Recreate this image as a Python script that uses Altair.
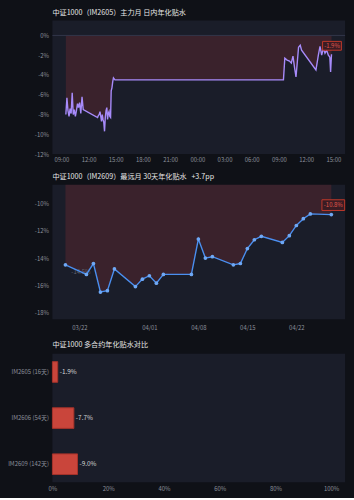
import altair as alt
import pandas as pd

FONT = "Noto Sans CJK SC"
BG = "#0f1117"
PANEL = "#1a1d29"
TXT = "#e6e6e6"
LAB = "#8b8f9a"

# ---------- Chart 1: intraday annualized basis (IM2605) ----------
day1 = "2026-04-27"
day2 = "2026-04-28"
d1_times = ["09:30", "09:37", "09:44", "09:51", "09:58", "10:05", "10:12", "10:19", "10:26",
            "10:33", "10:40", "10:47", "10:54", "11:01", "11:09", "11:17", "11:25",
            "13:00", "13:05", "13:11", "13:16", "13:21", "13:26", "13:31", "13:36", "13:41",
            "13:46", "13:51", "13:56", "14:01", "14:06", "14:11", "14:16", "14:21", "14:26",
            "14:30", "14:35", "14:40", "14:45", "14:50", "14:55", "15:00"]
d1_vals = [-8.0, -6.3, -7.6, -8.2, -7.4, -7.9, -5.8, -8.0, -7.5,
           -8.2, -7.6, -6.9, -7.3, -6.8, -7.9, -6.2, -7.5,
           -8.3, -8.1, -8.0, -7.7, -8.2, -8.7, -8.0, -8.5, -8.8,
           -9.7, -8.3, -7.6, -7.3, -8.5, -7.9, -7.7, -8.2, -8.3,
           -5.6, -5.3, -4.7, -4.3, -4.4, -4.5, -4.5]
d2_times = ["09:30", "09:39", "09:54", "10:10", "10:22", "10:33", "10:44", "10:53", "11:00",
            "11:10", "11:21", "11:30",
            "13:05", "13:21", "13:32", "13:43", "13:54", "14:05", "14:16", "14:27", "14:37",
            "14:42", "14:48"]
d2_vals = [-4.5, -2.3, -2.5, -2.6, -2.8, -2.1, -3.3, -4.2, -3.0,
           -1.2, -1.0, -1.5,
           -3.5, -2.0, -1.1, -2.0, -1.3, -1.8, -1.5, -2.0, -2.2,
           -3.7, -1.9]

# ---------- Chart 2: far-month 30-day annualized basis (IM2609) ----------
c2_dates = ["2026-03-20", "2026-03-23", "2026-03-24", "2026-03-25", "2026-03-26", "2026-03-27",
            "2026-03-30", "2026-03-31", "2026-04-01", "2026-04-02", "2026-04-03", "2026-04-07",
            "2026-04-08", "2026-04-09", "2026-04-10", "2026-04-13", "2026-04-14", "2026-04-15",
            "2026-04-16", "2026-04-17", "2026-04-20", "2026-04-21", "2026-04-22", "2026-04-23",
            "2026-04-24", "2026-04-27"]
c2_vals = [-14.5, -15.2, -14.4, -16.5, -16.4, -14.8,
           -16.1, -15.55, -15.3, -15.85, -15.2, -15.2,
           -12.6, -14.0, -13.9, -14.5, -14.4, -13.3,
           -12.65, -12.4, -12.85, -12.35, -11.6, -11.1,
           -10.75, -10.8]

# ---------- Chart 3: contract comparison ----------
c3_contracts = ["IM2605 (16天)", "IM2606 (54天)", "IM2609 (142天)"]
c3_vals = [-1.9, -7.7, -9.0]

title1 = "中证1000（IM2605）主力月 日内年化贴水"
title2 = "中证1000（IM2609）最远月 30天年化贴水\u00a0\u00a0\u00a0+3.7pp"
title3 = "中证1000 多合约年化贴水对比"

W = 296
RED = "#ef4444"
BOXPATH = "M-1,-0.47L1,-0.47L1,0.47L-1,0.47Z"


def ttl(t, off=4.5):
    return alt.TitleParams(t, anchor="start", frame="group", fontSize=7.2, color=TXT,
                           font=FONT, fontWeight="normal", offset=off)


def dt(y, m, d, h=0, mi=0):
    return alt.DateTime(year=y, month=m, date=d, hours=h, minutes=mi)


# chart 1 frame
t1 = [pd.Timestamp(f"{day1} {t}") for t in d1_times] + [pd.Timestamp(f"{day2} {t}") for t in d2_times]
df1 = pd.DataFrame({"t": t1, "v": d1_vals + d2_vals})
last1 = df1.tail(1).assign(lbl=lambda d: d["v"].map(lambda x: f"{x:.1f}%"))
zero_df1 = pd.DataFrame({"t": [t1[0]], "v": [0.0]})

x1 = alt.X("t:T", title=None,
           scale=alt.Scale(domain=[dt(2026, 4, 27, 8, 1), dt(2026, 4, 28, 16, 18)]),
           axis=alt.Axis(values=[dt(2026, 4, 27, h) for h in (9, 12, 15, 18, 21)] +
                         [dt(2026, 4, 28, h) for h in (0, 3, 6, 9, 12, 15)],
                         format="%H:%M", labelOverlap=False))
y1 = alt.Y("v:Q", title=None,
           scale=alt.Scale(domain=[-12, 1.5], nice=False, zero=False),
           axis=alt.Axis(values=[0, -2, -4, -6, -8, -10, -12], labelExpr="datum.value + '%'",
                         labelOverlap=False))

area1 = alt.Chart(df1).mark_area(color=RED, opacity=0.15).encode(x=x1, y=y1, y2=alt.datum(0))
zero1 = alt.Chart(zero_df1).mark_rule(color="#33364a", strokeWidth=1).encode(y=y1)
line1 = alt.Chart(df1).mark_line(color="#a78bfa", strokeWidth=1.4).encode(x=x1, y=y1)
box1 = alt.Chart(last1).mark_point(shape=BOXPATH, size=19 * 19, filled=True, fill="#3a1c23",
                                   stroke="#c0392b", strokeWidth=1, opacity=1,
                                   xOffset=0.5, yOffset=-8.5).encode(x=x1, y=y1)
txt1 = alt.Chart(last1).mark_text(color="#e0574c", fontSize=6, font=FONT, dx=0.5, dy=-8.5,
                                  align="center", baseline="middle").encode(x=x1, y=y1, text="lbl:N")
chart1 = alt.layer(area1, zero1, line1, box1, txt1).properties(width=W, height=135, title=ttl(title1))

# chart 2 frame
df2 = pd.DataFrame({"t": pd.to_datetime(c2_dates), "v": c2_vals})
last2 = df2.tail(1).assign(lbl=lambda d: d["v"].map(lambda x: f"{x:.1f}%"))
first2 = df2.head(1).assign(lbl=lambda d: d["v"].map(lambda x: f"{x:.1f}%"))

x2 = alt.X("t:T", title=None,
           scale=alt.Scale(domain=[dt(2026, 3, 18, 3, 20), dt(2026, 4, 28, 23, 15)]),
           axis=alt.Axis(values=[dt(2026, 3, 22), dt(2026, 4, 1), dt(2026, 4, 8), dt(2026, 4, 15), dt(2026, 4, 22)],
                         format="%m/%d", labelOverlap=False, labelPadding=5))
y2 = alt.Y("v:Q", title=None,
           scale=alt.Scale(domain=[-18.5, -8.6], nice=False, zero=False),
           axis=alt.Axis(values=[-10, -12, -14, -16, -18], labelExpr="datum.value + '%'",
                         labelOverlap=False))
area2 = alt.Chart(df2).mark_area(color=RED, opacity=0.15, clip=True).encode(x=x2, y=y2, y2=alt.datum(0))
flab2 = alt.Chart(first2).mark_text(color="#5f6473", fontSize=6, font=FONT, dx=6, dy=7,
                                    align="left", baseline="middle").encode(x=x2, y=y2, text="lbl:N")
line2 = alt.Chart(df2).mark_line(color="#4a8ff0", strokeWidth=1.4).encode(x=x2, y=y2)
pts2 = alt.Chart(df2).mark_circle(color="#6ea8f5", size=14, opacity=1).encode(x=x2, y=y2)
box2 = alt.Chart(last2).mark_point(shape=BOXPATH, size=23 * 23, filled=True, fill="#3a1c23",
                                   stroke="#c0392b", strokeWidth=1, opacity=1,
                                   xOffset=2, yOffset=-9.6).encode(x=x2, y=y2)
txt2 = alt.Chart(last2).mark_text(color="#e0574c", fontSize=6, font=FONT, dx=2, dy=-9.6,
                                  align="center", baseline="middle").encode(x=x2, y=y2, text="lbl:N")
chart2 = alt.layer(area2, flab2, line2, pts2, box2, txt2).properties(width=W, height=136, title=ttl(title2))

# chart 3 frame
df3 = pd.DataFrame({"c": c3_contracts, "v": c3_vals})
df3["a"] = df3["v"].abs()
df3["lbl"] = df3["v"].map(lambda x: f"{x:.1f}%")
y3 = alt.Y("c:N", title=None, sort=c3_contracts,
           scale=alt.Scale(paddingInner=0.553, paddingOuter=0.17))
x3 = alt.X("a:Q", title=None, scale=alt.Scale(domain=[0, 105], nice=False),
           axis=alt.Axis(values=[0, 20, 40, 60, 80, 100], labelExpr="datum.value + '%'",
                         labelOverlap=False))
bars = alt.Chart(df3).mark_bar(color="#c9453b", stroke="#a5332a", strokeWidth=1).encode(x=x3, y=y3)
blab = alt.Chart(df3).mark_text(align="left", baseline="middle", dx=2, color="#d8d8d8", fontSize=6.5,
                                font=FONT).encode(x=x3, y=y3, text="lbl:N")
chart3 = alt.layer(bars, blab).properties(width=W, height=130, title=ttl(title3, off=6))

chart = alt.vconcat(chart1, chart2, chart3, spacing=10).properties(
    background=BG,
    padding={"left": 7, "top": 6, "right": 7, "bottom": 4},
).configure_view(stroke=None, fill=PANEL).configure_axis(
    grid=False, domain=False, ticks=False, tickSize=0, labelColor=LAB, labelFontSize=6,
    labelFont=FONT, labelPadding=3, labelFlush=False
).configure_axisY(labelPadding=4, minExtent=44, maxExtent=44).configure_text(font=FONT)

chart.save("out.html", embed_options={"renderer": "svg", "actions": False})
